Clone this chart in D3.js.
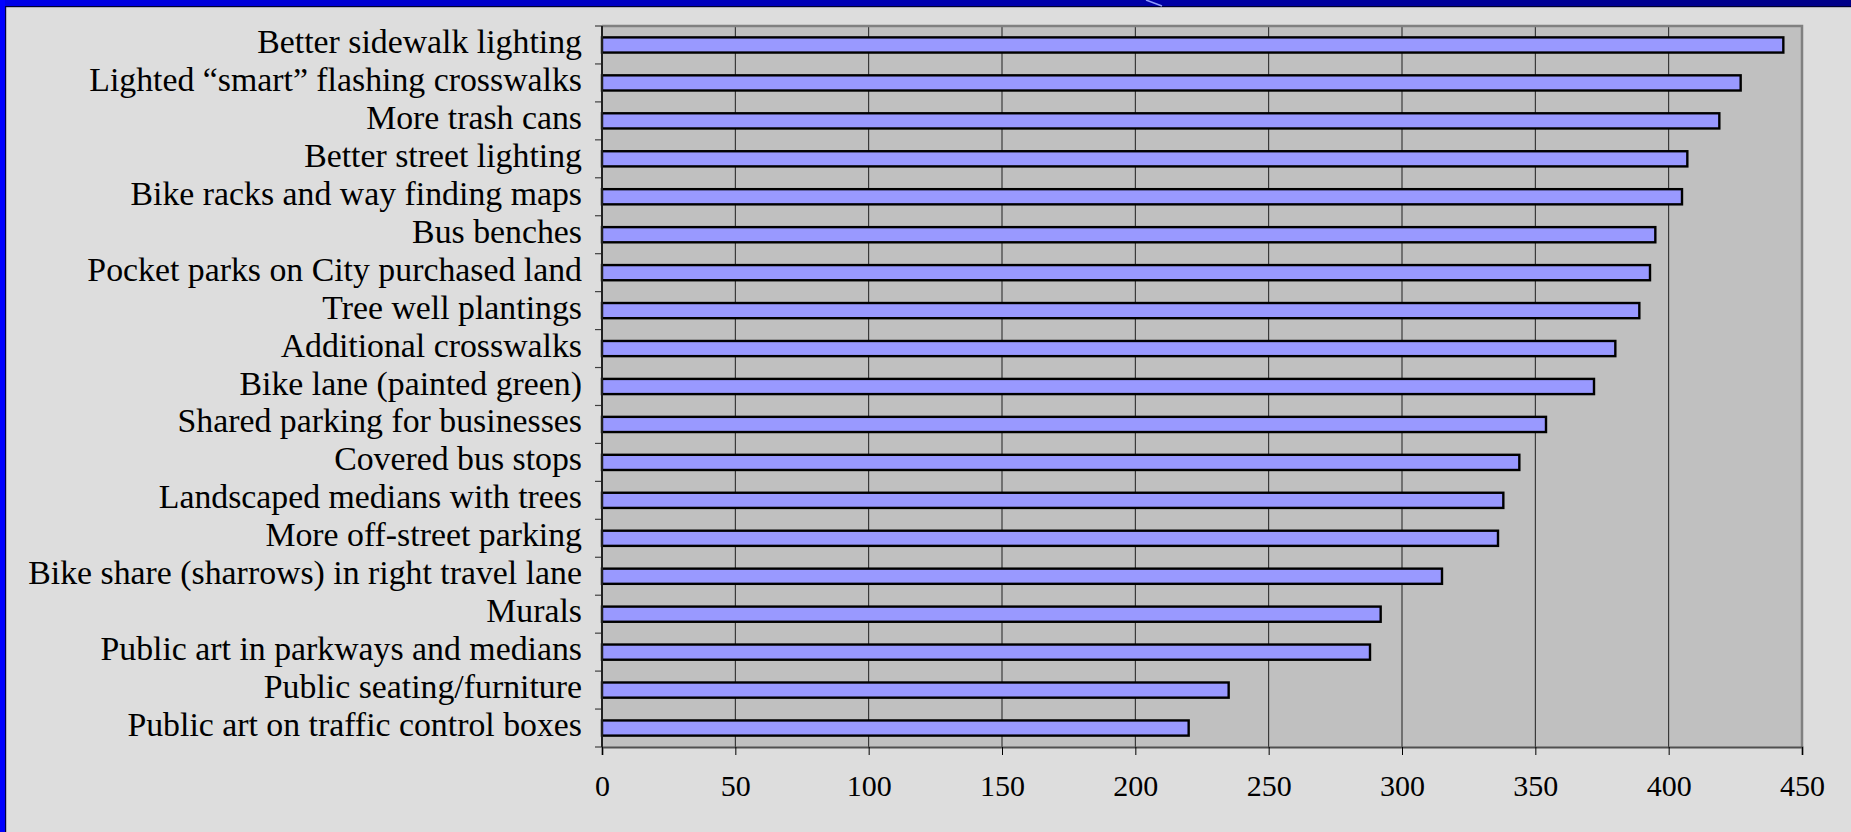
<!DOCTYPE html>
<html>
<head>
<meta charset="utf-8">
<script src="https://cdn.jsdelivr.net/npm/d3@7"></script>
<style>
  html, body { margin: 0; padding: 0; background: #dddddd; overflow: hidden; }
  svg { display: block; }
</style>
</head>
<body>
<svg id="chart" width="1851" height="832"></svg>
<script>
const categories = [
  "Better sidewalk lighting",
  "Lighted “smart” flashing crosswalks",
  "More trash cans",
  "Better street lighting",
  "Bike racks and way finding maps",
  "Bus benches",
  "Pocket parks on City purchased land",
  "Tree well plantings",
  "Additional crosswalks",
  "Bike lane (painted green)",
  "Shared parking for businesses",
  "Covered bus stops",
  "Landscaped medians with trees",
  "More off-street parking",
  "Bike share (sharrows) in right travel lane",
  "Murals",
  "Public art in parkways and medians",
  "Public seating/furniture",
  "Public art on traffic control boxes"
];
const values = [443, 427, 419, 407, 405, 395, 393, 389, 380, 372, 354, 344, 338, 336, 315, 292, 288, 235, 220];
const xTicks = [0, 50, 100, 150, 200, 250, 300, 350, 400, 450];

const W = 1851, H = 832;
const plot = { left: 602, top: 26, right: 1802, bottom: 747 };

const svg = d3.select("#chart");

// background and frame
svg.append("rect").attr("x", 0).attr("y", 0).attr("width", W).attr("height", H).attr("fill", "#dddddd");
const defs = svg.append("defs");
const grad = defs.append("linearGradient").attr("id", "topband").attr("x1", "0").attr("x2", "1").attr("y1", "0").attr("y2", "0");
grad.append("stop").attr("offset", "0").attr("stop-color", "#0000e8");
grad.append("stop").attr("offset", "0.5").attr("stop-color", "#0000b0");
grad.append("stop").attr("offset", "1").attr("stop-color", "#000088");
svg.append("rect").attr("x", 0).attr("y", 0).attr("width", W).attr("height", 6).attr("fill", "url(#topband)");
svg.append("rect").attr("x", 0).attr("y", 6).attr("width", W).attr("height", 1.2).attr("fill", "#000030");
svg.append("rect").attr("x", 0).attr("y", 0).attr("width", 5).attr("height", H).attr("fill", "#0000ff");
svg.append("rect").attr("x", 5).attr("y", 6).attr("width", 1.2).attr("height", H).attr("fill", "#000040");
svg.append("line").attr("x1", 1146).attr("y1", 0).attr("x2", 1162).attr("y2", 6)
  .attr("stroke", "#8f9bff").attr("stroke-width", 1.5);

const x = d3.scaleLinear().domain([0, 450]).range([plot.left, plot.right]);
const y = d3.scaleBand().domain(categories).range([plot.top, plot.bottom])
  .paddingInner(0.6).paddingOuter(0.3);

// plot area
svg.append("rect")
  .attr("x", plot.left).attr("y", plot.top)
  .attr("width", plot.right - plot.left).attr("height", plot.bottom - plot.top)
  .attr("fill", "#c0c0c0");

// gridlines
svg.append("g").selectAll("line").data(xTicks.filter(d => d > 0 && d < 450)).join("line")
  .attr("x1", d => x(d)).attr("x2", d => x(d))
  .attr("y1", plot.top).attr("y2", plot.bottom)
  .attr("stroke", "#202020").attr("stroke-width", 1);

// plot border (top, right)
svg.append("path")
  .attr("d", `M${plot.left},${plot.top}H${plot.right}V${plot.bottom}`)
  .attr("fill", "none").attr("stroke", "#808080").attr("stroke-width", 2.5);

// bars
svg.append("g").selectAll("rect").data(values).join("rect")
  .attr("x", x(0))
  .attr("y", (d, i) => y(categories[i]))
  .attr("width", d => x(d) - x(0))
  .attr("height", y.bandwidth())
  .attr("fill", "#9999ff")
  .attr("stroke", "#000000")
  .attr("stroke-width", 2.4);

// x axis
const xAxis = d3.axisBottom(x).tickValues(xTicks).tickSize(8).tickPadding(0).tickFormat(d3.format("d"));
const gx = svg.append("g").attr("transform", `translate(0,${plot.bottom})`).call(xAxis);
gx.select(".domain").attr("stroke", "#505050").attr("stroke-width", 2);
gx.selectAll(".tick line").attr("stroke", "#000").attr("stroke-width", 1);
gx.selectAll(".tick text")
  .attr("y", 49).attr("dy", null)
  .attr("fill", "#000")
  .style("font-family", "'Liberation Serif', 'Times New Roman', serif")
  .style("font-size", "30px");

// y axis: ticks at band boundaries
const step = y.step();
const boundaries = d3.range(categories.length + 1).map(i => plot.top + i * step);
svg.append("g").selectAll("line").data(boundaries).join("line")
  .attr("x1", plot.left - 7).attr("x2", plot.left)
  .attr("y1", d => d).attr("y2", d => d)
  .attr("stroke", "#404040").attr("stroke-width", 1.2);
svg.append("line")
  .attr("x1", plot.left).attr("x2", plot.left)
  .attr("y1", plot.top).attr("y2", plot.bottom)
  .attr("stroke", "#202020").attr("stroke-width", 2);

// category labels
svg.append("g").selectAll("text").data(categories).join("text")
  .attr("x", plot.left - 20)
  .attr("y", d => y(d) + y.bandwidth() / 2 + 8)
  .attr("text-anchor", "end")
  .attr("fill", "#000")
  .style("font-family", "'Liberation Serif', 'Times New Roman', serif")
  .style("font-size", "33.8px")
  .text(d => d);
</script>
</body>
</html>
